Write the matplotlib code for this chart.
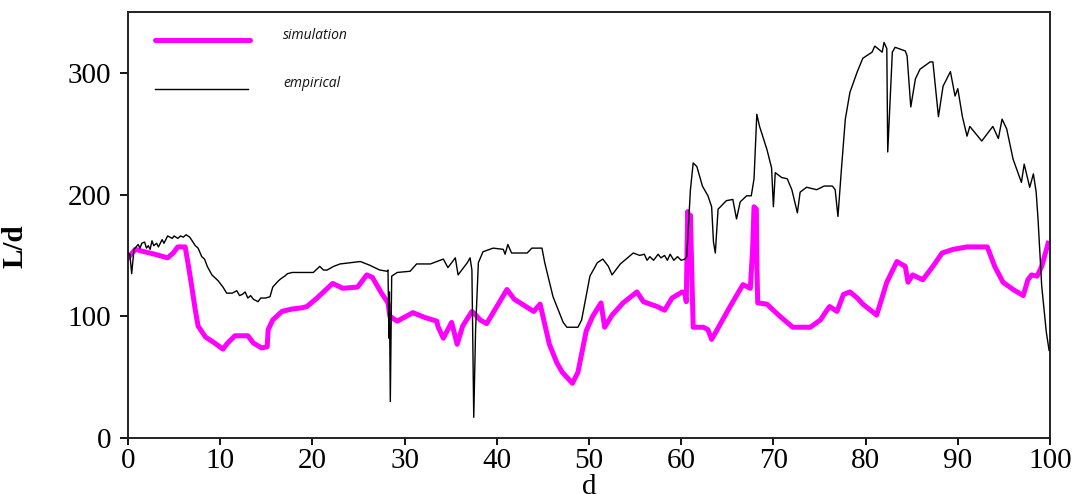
import matplotlib
matplotlib.use("Agg")
import matplotlib.pyplot as plt

# empirical L/d curve
emp_d = [0.0, 0.2, 0.4, 0.65, 1.1, 1.3, 1.5, 1.8, 2.0, 2.2, 2.4, 2.6, 2.8, 3.1, 3.3, 3.7, 3.9,
         4.3, 4.8, 5.0, 5.4, 5.7, 6.0, 6.3, 6.7, 7.3, 7.6, 8.0, 8.3, 8.6, 9.1, 9.8, 10.3, 10.7,
         11.3, 11.8, 12.1, 12.4, 12.7, 13.0, 13.3, 13.6, 14.1, 14.4, 14.9, 15.4, 15.7, 16.3,
         16.6, 17.0, 17.3, 17.8, 18.7, 19.4, 20.1, 20.8, 21.2, 21.6, 22.3, 23.0, 24.1, 25.2,
         26.2, 27.3, 28.1, 28.2, 28.3, 28.35, 28.45, 28.6,
         29.2, 30.6, 31.3, 32.8, 34.2, 34.7, 35.5, 35.8, 36.8, 37.1, 37.3, 37.5, 37.7, 38.0, 38.5,
         39.6, 40.7, 40.9, 41.2, 41.6, 43.3, 43.8, 44.9, 45.2, 46.1, 47.2, 47.6, 48.8, 49.2, 50.1,
         50.9, 51.5, 52.1, 52.5, 53.4, 54.8, 55.5, 56.0, 56.3, 56.6, 57.0, 57.5, 57.8, 58.2,
         58.5, 58.8, 59.2, 59.6, 60.0, 60.4, 60.6, 61.0, 61.3,
         61.7, 62.3, 62.9, 63.3, 63.5, 63.7, 64.0, 64.9, 65.6, 66.0, 66.4, 67.1, 67.6, 67.9, 68.2,
         68.5, 69.3, 69.8, 70.0, 70.2, 70.9, 71.5, 72.0, 72.6, 72.9, 73.6, 74.7, 75.5, 76.4, 76.7,
         77.0, 77.4, 77.8, 78.3, 79.1, 79.7, 80.7, 81.0, 81.8, 82.0, 82.3, 82.4, 82.9, 83.2, 84.3,
         84.5, 84.9, 85.4, 85.9, 87.0, 87.3, 87.9, 88.4, 89.2, 89.7, 90.0, 90.5, 91.0, 91.3, 92.6,
         93.8, 94.4, 94.8, 95.3, 96.0, 96.9, 97.2, 97.8, 98.2, 98.5, 98.7, 99.1, 99.6, 99.9]
emp_ld = [152, 151, 135, 155, 159, 156, 160, 161, 156, 158, 155, 162, 158, 160, 157, 163, 160,
          166, 164, 166, 164, 166, 165, 167, 165, 158, 156, 149, 147, 141, 134, 129, 124, 119,
          119, 121, 117, 118, 120, 115, 117, 114, 112, 115, 115, 116, 124, 129,
          131, 133, 135, 136, 136, 136, 136, 141, 138, 138, 141, 143, 144, 145,
          142, 138, 137, 138, 82, 120, 30, 133,
          136, 137, 143, 143, 147, 140, 148, 134, 144, 148, 138, 17, 89, 144, 153,
          156, 155, 151, 159, 152, 152, 156, 156, 144, 116, 95, 91, 91, 97, 133,
          144, 147, 141, 134, 143, 152, 150, 151, 146, 149, 146, 151, 148, 150,
          146, 151, 146, 149, 146, 147, 149, 204, 226,
          223, 207, 199, 190, 161, 152, 188, 195, 196, 180, 194, 199, 199, 213, 266,
          256, 237, 222, 190, 218, 214, 213, 204, 185, 202, 206, 204, 207, 207, 204,
          182, 223, 262, 284, 301, 312, 317, 322, 317, 325, 320, 235, 317, 321, 318,
          314, 272, 295, 303, 309, 309, 264, 289, 301, 281, 287, 264, 248, 256, 244,
          256, 246, 262, 254, 229, 210, 225, 206, 217, 202, 180, 125, 87, 72]

# simulated L/d curve
sim_d = [0.0, 0.8, 1.8, 2.9, 4.3, 4.9, 5.4, 6.2, 6.5, 6.9, 7.3, 7.6, 8.4, 9.4, 10.3, 10.8, 11.6,
         13.0, 13.6, 14.5, 15.1, 15.2, 15.7, 16.7, 17.8, 18.9, 19.4, 20.5, 22.2, 23.3, 24.9, 25.9,
         26.5, 27.5, 28.2, 28.4, 29.2, 30.9, 32.2, 33.5, 33.6, 34.2, 35.1, 35.7, 36.3, 37.3, 37.6,
         38.2, 38.9, 41.1, 41.9, 44.0, 44.7, 45.7, 46.5, 47.1, 48.2, 48.8, 49.7, 50.4, 51.3, 51.7,
         52.5, 53.7, 55.2, 55.9, 57.4, 58.2, 59.0, 60.1, 60.4, 60.55, 60.7, 60.85, 61.0, 61.15,
         61.3, 62.4, 62.9, 63.3, 63.9, 65.3, 66.7, 67.5, 67.75, 67.9, 68.15, 68.2, 68.3, 69.3,
         70.7, 72.1, 74.0, 75.1, 75.8, 76.1, 76.9, 77.6, 78.3, 79.1, 79.7, 81.2, 82.3, 83.4, 84.3,
         84.6, 85.1, 86.2, 87.3, 88.3, 89.5, 91.0, 93.2, 94.0, 94.9, 96.0, 97.1, 97.6, 98.0, 98.6,
         99.1, 99.8]
sim_ld = [148, 155, 153, 151, 148, 152, 157, 157, 144, 125, 105, 92, 83, 78, 73, 78, 84,
          84, 78, 74, 75, 89, 97, 104, 106, 107, 108, 115, 127, 123, 124, 134,
          132, 119, 111, 100, 96, 103, 99, 96, 92, 82, 95, 77, 92, 104, 102,
          97, 94, 122, 114, 104, 110, 77, 62, 54, 45, 54, 88, 100, 111, 91,
          101, 111, 120, 112, 108, 105, 115, 120, 119, 112, 186, 140, 183, 136,
          91, 91, 89, 81, 89, 108, 126, 123, 156, 190, 188, 145, 111, 110,
          100, 91, 91, 97, 105, 108, 104, 118, 120, 115, 110, 101, 128, 145, 141,
          128, 134, 130, 141, 152, 155, 157, 157, 141, 128, 122, 117, 130, 134, 133,
          141, 160]

x_ticks = [0, 10, 20, 30, 40, 50, 60, 70, 80, 90, 100]
y_ticks = [0, 100, 200, 300]

fig = plt.figure(figsize=(10.77, 4.94), dpi=100)
ax = fig.add_axes([128 / 1077, 1 - 438 / 494, 922 / 1077, 426 / 494])

ax.plot(sim_d, sim_ld, color="#ff00ff", lw=3.6, solid_joinstyle="round", zorder=2)
ax.plot(emp_d, emp_ld, color="black", lw=1.0, zorder=3)

ax.set_xlim(0, 100)
ax.set_ylim(0, 350)
ax.set_xticks(x_ticks)
ax.set_yticks(y_ticks)

serif = "Liberation Serif"
ax.set_xticklabels([str(t) for t in x_ticks], fontfamily=serif, fontsize=21)
ax.set_yticklabels([str(t) for t in y_ticks], fontfamily=serif, fontsize=21)
ax.tick_params(axis="both", direction="out", width=1.3, colors="black")
ax.tick_params(axis="x", length=5, pad=2)
ax.tick_params(axis="y", length=6, pad=6)

for sp in ax.spines.values():
    sp.set_linewidth(1.4)
    sp.set_color("#222222")

ax.set_ylabel("L/d", fontfamily=serif, fontsize=21, fontweight="bold")
ax.yaxis.set_label_coords(-0.108, 0.45)
ax.set_xlabel("d", fontfamily=serif, fontsize=21)
ax.xaxis.set_label_coords(0.5, -0.085)

# legend keys drawn by hand in axes coordinates
ax.plot([0.0293, 0.1323], [0.934, 0.934], transform=ax.transAxes,
        color="#ff00ff", lw=3.6, solid_capstyle="round", clip_on=False)
ax.plot([0.0293, 0.1300], [0.819, 0.819], transform=ax.transAxes,
        color="black", lw=1.0, clip_on=False)
ax.text(0.168, 0.946, "simulation", transform=ax.transAxes, fontfamily="Open Sans",
        fontstyle="italic", fontsize=10, va="center", ha="left", color="#111111")
ax.text(0.168, 0.833, "empirical", transform=ax.transAxes, fontfamily="Open Sans",
        fontstyle="italic", fontsize=10, va="center", ha="left", color="#111111")

fig.savefig("out.png", dpi=100, facecolor="white")
